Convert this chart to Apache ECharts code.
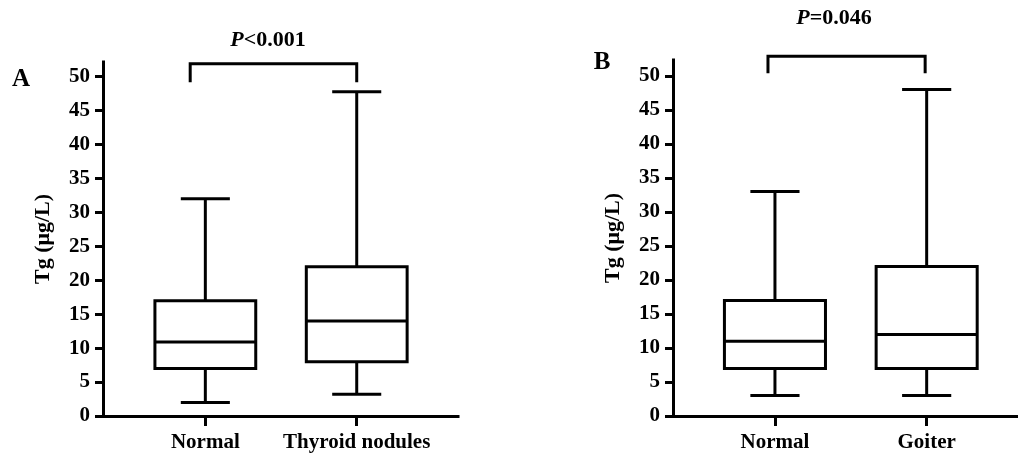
<!DOCTYPE html>
<html><head><meta charset="utf-8">
<script src="https://cdn.jsdelivr.net/npm/echarts@6/dist/echarts.min.js"></script>
<style>html,body{margin:0;padding:0;background:#fff}#c{width:1018px;height:456px}</style>
</head><body><div id="c"></div>
<script>
// ---- data ----
const categoriesA = ['Normal', 'Thyroid nodules'];
const categoriesB = ['Normal', 'Goiter'];
// each row: [min, Q1, median, Q3, max]
const boxA = [[2, 7, 10.9, 17, 32], [3.2, 8, 14, 22, 47.8]];
const boxB = [[3, 7, 11, 17, 33], [3, 7, 12, 22, 48]];
const yTicks = [0, 5, 10, 15, 20, 25, 30, 35, 40, 45, 50];
const xTicks = [1, 2];
// significance brackets: [xLeft, xRight, legBottomValue, topValue]
const bracketA = [0.9, 2.0, 49.2, 51.9];
const bracketB = [0.954, 1.99, 50.4, 52.9];
const pValueA = '<0.001';
const pValueB = '=0.046';
const yName = 'Tg (μg/L)';

// ---- build ----
const FONT = 'Liberation Serif';
const toRows = (box) => box.map((r, i) => [i + 1].concat(r));

function boxRender(params, api) {
  const x = api.value(0);
  const v = [1, 2, 3, 4, 5].map(i => api.value(i));
  const unit = api.size([1, 0])[0];
  const bh = unit * 0.333, ch = unit * 0.162;
  const p = v.map(val => api.coord([x, val]));
  const cx = p[0][0];
  const st = { stroke: '#000', lineWidth: 3, fill: null };
  return {
    type: 'group', children: [
      { type: 'line', shape: { x1: cx, y1: p[3][1], x2: cx, y2: p[4][1] }, style: st },
      { type: 'line', shape: { x1: cx, y1: p[1][1], x2: cx, y2: p[0][1] }, style: st },
      { type: 'line', shape: { x1: cx - ch, y1: p[4][1], x2: cx + ch, y2: p[4][1] }, style: st },
      { type: 'line', shape: { x1: cx - ch, y1: p[0][1], x2: cx + ch, y2: p[0][1] }, style: st },
      { type: 'rect', shape: { x: cx - bh, y: p[3][1], width: 2 * bh, height: p[1][1] - p[3][1] },
        style: { stroke: '#000', lineWidth: 3, fill: '#fff' } },
      { type: 'line', shape: { x1: cx - bh, y1: p[2][1], x2: cx + bh, y2: p[2][1] }, style: st }
    ]
  };
}
function bracketRender(params, api) {
  const a = api.coord([api.value(0), api.value(2)]);
  const b = api.coord([api.value(0), api.value(3)]);
  const c = api.coord([api.value(1), api.value(3)]);
  const d = api.coord([api.value(1), api.value(2)]);
  return { type: 'polyline', shape: { points: [a, b, c, d] },
    style: { stroke: '#000', lineWidth: 3, fill: null, lineJoin: 'miter' } };
}

function makeX(idx, min, max, cats) {
  return {
    gridIndex: idx, type: 'value', min: min, max: max,
    axisLine: { show: true, lineStyle: { color: '#000', width: 3, cap: 'square' } },
    axisTick: { show: true, length: 10, customValues: xTicks, lineStyle: { color: '#000', width: 3 } },
    axisLabel: { customValues: xTicks, margin: 16, color: '#000', fontFamily: FONT, fontWeight: 'bold', fontSize: 21,
      formatter: (val) => cats[Math.round(val) - 1] || '' },
    splitLine: { show: false }
  };
}
function makeY(idx, max) {
  return {
    gridIndex: idx, type: 'value', min: 0, max: max, interval: 5,
    name: yName, nameLocation: 'middle', nameRotate: 90, nameGap: 49,
    nameTextStyle: { color: '#000', fontFamily: FONT, fontWeight: 'bold', fontSize: 22 },
    axisLine: { show: true, lineStyle: { color: '#000', width: 3, cap: 'square' } },
    axisTick: { show: true, length: 8, customValues: yTicks, lineStyle: { color: '#000', width: 3 } },
    axisLabel: { customValues: yTicks, margin: 13, color: '#000', fontFamily: FONT, fontWeight: 'bold', fontSize: 21 },
    splitLine: { show: false }
  };
}

const chart = echarts.init(document.getElementById('c'), null, { renderer: 'canvas' });
const textStyle = (t, x, y, size) => ({
  type: 'text', x: x, y: y, z: 100,
  style: { text: t, fontFamily: FONT, fontWeight: 'bold', fontSize: size, fill: '#000',
    align: 'center', verticalAlign: 'middle',
    rich: { i: { fontStyle: 'italic', fontWeight: 'bold', fontFamily: FONT, fontSize: size } } }
});
chart.setOption({
  backgroundColor: '#fff',
  animation: false,
  grid: [
    { left: 103, top: 62, width: 355, height: 354, containLabel: false },
    { left: 673, top: 60, width: 345, height: 356, containLabel: false }
  ],
  xAxis: [makeX(0, 0.324, 2.669, categoriesA), makeX(1, 0.328, 2.602, categoriesB)],
  yAxis: [makeY(0, 52.17), makeY(1, 52.35)],
  series: [
    { type: 'custom', xAxisIndex: 0, yAxisIndex: 0, clip: false, renderItem: boxRender,
      encode: { x: 0, y: [1, 2, 3, 4, 5] }, data: toRows(boxA) },
    { type: 'custom', xAxisIndex: 1, yAxisIndex: 1, clip: false, renderItem: boxRender,
      encode: { x: 0, y: [1, 2, 3, 4, 5] }, data: toRows(boxB) },
    { type: 'custom', xAxisIndex: 0, yAxisIndex: 0, clip: false, renderItem: bracketRender,
      encode: { x: [0, 1], y: [2, 3] }, data: [bracketA] },
    { type: 'custom', xAxisIndex: 1, yAxisIndex: 1, clip: false, renderItem: bracketRender,
      encode: { x: [0, 1], y: [2, 3] }, data: [bracketB] }
  ],
  graphic: [
    textStyle('A', 21, 80, 25),
    textStyle('B', 602, 63, 25),
    textStyle('{i|P}' + pValueA, 268, 40, 22),
    textStyle('{i|P}' + pValueB, 834, 18, 22)
  ]
});
</script></body></html>
